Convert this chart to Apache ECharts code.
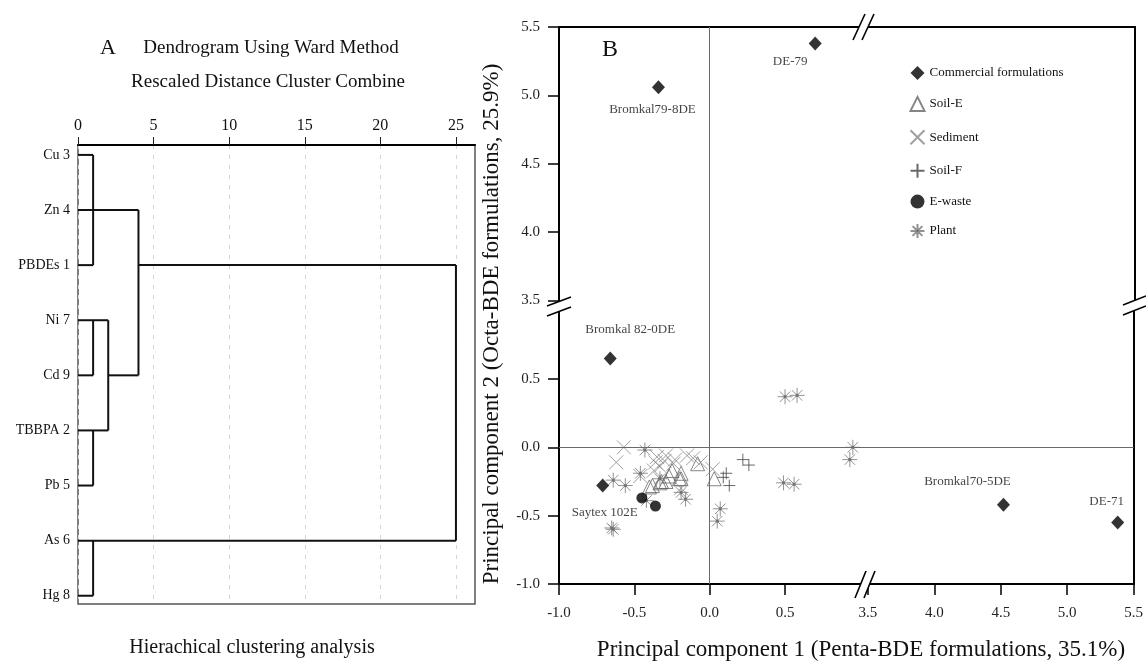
<!DOCTYPE html>
<html><head><meta charset="utf-8">
<script src="https://cdn.jsdelivr.net/npm/echarts@6/dist/echarts.min.js"></script>
<style>html,body{margin:0;padding:0;background:#fff;}#c{width:1146px;height:668px;}</style>
</head><body><div id="c"></div>
<script>
// ---------- Panel A : dendrogram ----------
const rowLabels = ['Cu 3','Zn 4','PBDEs 1','Ni 7','Cd 9','TBBPA 2','Pb 5','As 6','Hg 8'];
const distanceTicks = [0,5,10,15,20,25];
// segments: [distance1, row1, distance2, row2]
const segments = [
  [0,0,1,0],[1,0,1,2],[0,1,4,1],[0,2,1,2],[4,1,4,4],[4,2,25,2],
  [0,3,2,3],[1,3,1,4],[0,4,1,4],[2,4,4,4],[2,3,2,5],[0,5,2,5],
  [1,5,1,6],[0,6,1,6],[25,2,25,7],[0,7,25,7],[1,7,1,8],[0,8,1,8]
];

// ---------- Panel B : PCA scatter ----------
const commercialNames = ['Bromkal79-8DE','DE-79','Bromkal 82-0DE','Saytex 102E','Bromkal70-5DE','DE-71'];
const commercialX = [-0.34, 0.70, -0.66, -0.71, 4.52, 5.38];
const commercialY = [5.06, 5.38, 0.65, -0.28, -0.42, -0.55];

const soilEX = [-0.08, 0.03, -0.19, -0.20, -0.25, -0.27, -0.29, -0.32, -0.33, -0.38, -0.40, -0.19];
const soilEY = [-0.12, -0.23, -0.19, -0.23, -0.17, -0.21, -0.25, -0.25, -0.26, -0.28, -0.29, -0.23];

const sedimentX = [-0.57, -0.62, -0.35, -0.29, -0.23, -0.15, -0.11, -0.06, 0.02, -0.33, -0.37, -0.36, -0.30, -0.24, -0.19, -0.46];
const sedimentY = [0.00, -0.11, -0.07, -0.06, -0.09, -0.06, -0.08, -0.11, -0.16, -0.14, -0.17, -0.11, -0.10, -0.12, -0.30, -0.21];

const soilFX = [0.11, 0.13, 0.22, 0.26, 0.09];
const soilFY = [-0.19, -0.28, -0.09, -0.13, -0.22];

const ewasteX = [-0.45, -0.36];
const ewasteY = [-0.37, -0.43];

const plantX = [-0.65, -0.64, -0.64, -0.56, -0.46, -0.43, -0.33, -0.42, -0.19, -0.16, 0.05, 0.07, 0.50, 0.58, 0.49, 0.56, 0.95, 0.93];
const plantY = [-0.59, -0.60, -0.24, -0.28, -0.19, -0.02, -0.23, -0.39, -0.33, -0.38, -0.54, -0.45, 0.37, 0.38, -0.26, -0.27, 0.00, -0.09];

const xLeftTicks = [-1.0, -0.5, 0.0, 0.5];
const xRightTicks = [3.5, 4.0, 4.5, 5.0, 5.5];
const yLowerTicks = [-1.0, -0.5, 0.0, 0.5];
const yUpperTicks = [3.5, 4.0, 4.5, 5.0, 5.5];

// label offsets for commercial formulation names (px, relative to marker centre)
const commercialLabelOffsets = [[-6,22],[-25,18],[20,-29],[2,27],[-36,-23],[-11,-21]];

const SERIF = '"Liberation Serif", "DejaVu Serif", serif';

// grid indices of broken panel: 1 UL, 2 LL, 3 UR, 4 LR
function gridOf(x, y) {
  const right = x > 2, upper = y > 2;
  if (upper && !right) return 1;
  if (!upper && !right) return 2;
  if (upper && right) return 3;
  return 4;
}

const styles = {
  'Commercial formulations': {symbol:'diamond', symbolSize:[13,14], itemStyle:{color:'#000'}},
  'Soil-E': {symbol:'triangle', symbolSize:[14,14], itemStyle:{color:'none', borderColor:'#666', borderWidth:1}},
  'Sediment': {symbol:'path://M0,0L10,10M10,0L0,10', symbolSize:14, itemStyle:{color:'none', borderColor:'#888', borderWidth:1}},
  'Soil-F': {symbol:'path://M5,0L5,10M0,5L10,5', symbolSize:12, itemStyle:{color:'none', borderColor:'#444', borderWidth:1}},
  'E-waste': {symbol:'circle', symbolSize:11, itemStyle:{color:'#000'}},
  'Plant': {symbol:'path://M5,0L5,10M0,5L10,5M1.5,1.5L8.5,8.5M8.5,1.5L1.5,8.5M4.3,4.3L5.7,4.3L5.7,5.7L4.3,5.7Z', symbolSize:15, itemStyle:{color:'#000', borderColor:'#777', borderWidth:1}}
};

const groups = [
  ['Commercial formulations', commercialX, commercialY],
  ['Soil-E', soilEX, soilEY],
  ['Sediment', sedimentX, sedimentY],
  ['Soil-F', soilFX, soilFY],
  ['E-waste', ewasteX, ewasteY],
  ['Plant', plantX, plantY]
];

const series = [];
series.push({
  type:'custom', xAxisIndex:0, yAxisIndex:0, silent:true, clip:false,
  data: segments,
  encode:{x:[0,2], y:[1,3]},
  renderItem: function(params, api){
    const p1 = api.coord([api.value(0), api.value(1)]);
    const p2 = api.coord([api.value(2), api.value(3)]);
    return {type:'line', shape:{x1:p1[0], y1:p1[1], x2:p2[0], y2:p2[1]}, style:{stroke:'#111', lineWidth:2}};
  }
});

// reference zero lines
const zeroLine = {silent:true, symbol:'none', label:{show:false}, lineStyle:{color:'#6a6a6a', width:1, type:'solid'}, emphasis:{disabled:true}};
series.push({type:'scatter', name:'_ref1', xAxisIndex:1, yAxisIndex:1, data:[], markLine:Object.assign({data:[{xAxis:0}]}, zeroLine)});
series.push({type:'scatter', name:'_ref2', xAxisIndex:2, yAxisIndex:2, data:[], markLine:Object.assign({data:[{xAxis:0},{yAxis:0}]}, zeroLine)});
series.push({type:'scatter', name:'_ref4', xAxisIndex:4, yAxisIndex:4, data:[], markLine:Object.assign({data:[{yAxis:0}]}, zeroLine)});

groups.forEach(function(g){
  const name = g[0], xs = g[1], ys = g[2];
  const buckets = {1:[],2:[],3:[],4:[]};
  xs.forEach(function(x, i){
    const item = {value:[x, ys[i]]};
    if (name === 'Commercial formulations') {
      item.label = {show:true, position:'inside', offset:commercialLabelOffsets[i], formatter:commercialNames[i],
        fontFamily:SERIF, fontSize:13, color:'#111'};
    }
    buckets[gridOf(x, ys[i])].push(item);
  });
  [1,2,3,4].forEach(function(k){
    if (!buckets[k].length) return;
    const st = styles[name];
    series.push({
      type:'scatter', name:name, xAxisIndex:k, yAxisIndex:k,
      symbol:st.symbol, symbolSize:st.symbolSize, itemStyle:st.itemStyle,
      data:buckets[k], emphasis:{disabled:true}, z: name==='Commercial formulations' || name==='E-waste' ? 5 : 3
    });
  });
});

const fmt1 = function(v){ return Number(v).toFixed(1); };
const lineBlack = {show:true, onZero:false, lineStyle:{color:'#000', width:2}};
const noLabel = {show:false}, noTick = {show:false}, noSplit = {show:false};
const tickStyle = {lineStyle:{color:'#000', width:1.5}};

const xAxis = [
  {gridIndex:0, type:'value', position:'top', min:0, max:26.26,
   axisLine:{show:true, onZero:false, lineStyle:{color:'#000', width:2}},
   axisTick:{show:true, customValues:distanceTicks, length:8, lineStyle:{color:'#222', width:1}},
   axisLabel:{show:true, customValues:distanceTicks, fontFamily:SERIF, fontSize:16, color:'#111', margin:11},
   splitLine:{show:true, lineStyle:{color:'#d4d4d4', type:[4,6], width:1}}},
  {gridIndex:1, type:'value', position:'top', min:-1, max:1.024, axisLine:lineBlack, axisTick:noTick, axisLabel:noLabel, splitLine:noSplit},
  {gridIndex:2, type:'value', position:'bottom', min:-1, max:1.024, axisLine:lineBlack,
   axisTick:Object.assign({show:true, customValues:xLeftTicks, length:11}, tickStyle),
   axisLabel:{show:true, customValues:xLeftTicks, formatter:fmt1, fontFamily:SERIF, fontSize:15, color:'#222', margin:22},
   splitLine:noSplit},
  {gridIndex:3, type:'value', position:'top', min:3.47, max:5.5, axisLine:lineBlack, axisTick:noTick, axisLabel:noLabel, splitLine:noSplit},
  {gridIndex:4, type:'value', position:'bottom', min:3.47, max:5.5, axisLine:lineBlack,
   axisTick:Object.assign({show:true, customValues:xRightTicks, length:11}, tickStyle),
   axisLabel:{show:true, customValues:xRightTicks, formatter:fmt1, fontFamily:SERIF, fontSize:15, color:'#222', margin:22},
   splitLine:noSplit}
];
const yAxis = [
  {gridIndex:0, type:'value', inverse:true, min:-0.18, max:8.15,
   axisLine:{show:false}, axisTick:noTick, splitLine:noSplit,
   axisLabel:{show:true, customValues:rowLabels.map(function(_, i){return i;}), formatter:function(v){return rowLabels[Math.round(v)];},
     fontFamily:SERIF, fontSize:14, color:'#111', margin:8}},
  {gridIndex:1, type:'value', position:'left', min:3.466, max:5.5, axisLine:lineBlack,
   axisTick:Object.assign({show:true, customValues:yUpperTicks, length:11}, tickStyle),
   axisLabel:{show:true, customValues:yUpperTicks, formatter:fmt1, fontFamily:SERIF, fontSize:15, color:'#222', margin:19},
   splitLine:noSplit},
  {gridIndex:2, type:'value', position:'left', min:-1, max:1.041, axisLine:lineBlack,
   axisTick:Object.assign({show:true, customValues:yLowerTicks, length:11}, tickStyle),
   axisLabel:{show:true, customValues:yLowerTicks, formatter:fmt1, fontFamily:SERIF, fontSize:15, color:'#222', margin:19},
   splitLine:noSplit},
  {gridIndex:3, type:'value', position:'right', min:3.466, max:5.5, axisLine:lineBlack, axisTick:noTick, axisLabel:noLabel, splitLine:noSplit},
  {gridIndex:4, type:'value', position:'right', min:-1, max:1.041, axisLine:lineBlack, axisTick:noTick, axisLabel:noLabel, splitLine:noSplit}
];

function breakMark(a1, a2, b1, b2) {
  return [
    {type:'polygon', shape:{points:[a1, a2, b2, b1]}, style:{fill:'#fff', stroke:'none'}, z:100},
    {type:'line', shape:{x1:a1[0], y1:a1[1], x2:a2[0], y2:a2[1]}, style:{stroke:'#000', lineWidth:1.6}, z:101},
    {type:'line', shape:{x1:b1[0], y1:b1[1], x2:b2[0], y2:b2[1]}, style:{stroke:'#000', lineWidth:1.6}, z:101}
  ];
}

const txt = function(text, x, y, size, extra){
  return Object.assign({type:'text', x:x, y:y, z:100,
    style:{text:text, fontFamily:SERIF, fontSize:size, fill:'#111', textAlign:'center', textVerticalAlign:'middle'}}, extra || {});
};

const graphic = [].concat(
  [
    txt('A', 108, 48, 22),
    txt('Dendrogram Using Ward Method', 271, 48, 19),
    txt('Rescaled Distance Cluster Combine', 268, 82, 19),
    txt('Hierachical clustering analysis', 252, 648, 20),
    txt('B', 610, 50, 24),
    txt('Principal component 1 (Penta-BDE formulations, 35.1%)', 861, 650, 23),
    txt('Principal component 2 (Octa-BDE formulations, 25.9%)', 492, 324, 23, {rotation:Math.PI/2})
  ],
  breakMark([547,306],[571,297],[547,316],[571,307]),
  breakMark([1123,305],[1146,296],[1123,315],[1146,306]),
  breakMark([853,40],[865,14],[862,40],[874,14]),
  breakMark([855,598],[866,571],[864,598],[875,571])
);

const option = {
  animation:false,
  backgroundColor:'#fff',
  grid:[
    {left:78, top:145, width:397, height:459, show:true, borderColor:'#555', borderWidth:1.5},
    {left:559, top:27, width:305, height:278},
    {left:559, top:305, width:305, height:279},
    {left:864, top:27, width:271, height:278},
    {left:864, top:305, width:271, height:279}
  ],
  legend:{
    data:groups.map(function(g){return g[0];}),
    orient:'vertical', left:903, top:61, itemWidth:14, itemHeight:14, itemGap:14.4,
    textStyle:{fontFamily:SERIF, fontSize:13, color:'#111'}, selectedMode:false
  },
  xAxis:xAxis, yAxis:yAxis, series:series, graphic:graphic
};

const chart = echarts.init(document.getElementById('c'), null, {renderer:'canvas'});
chart.setOption(option);
</script>
</body></html>
